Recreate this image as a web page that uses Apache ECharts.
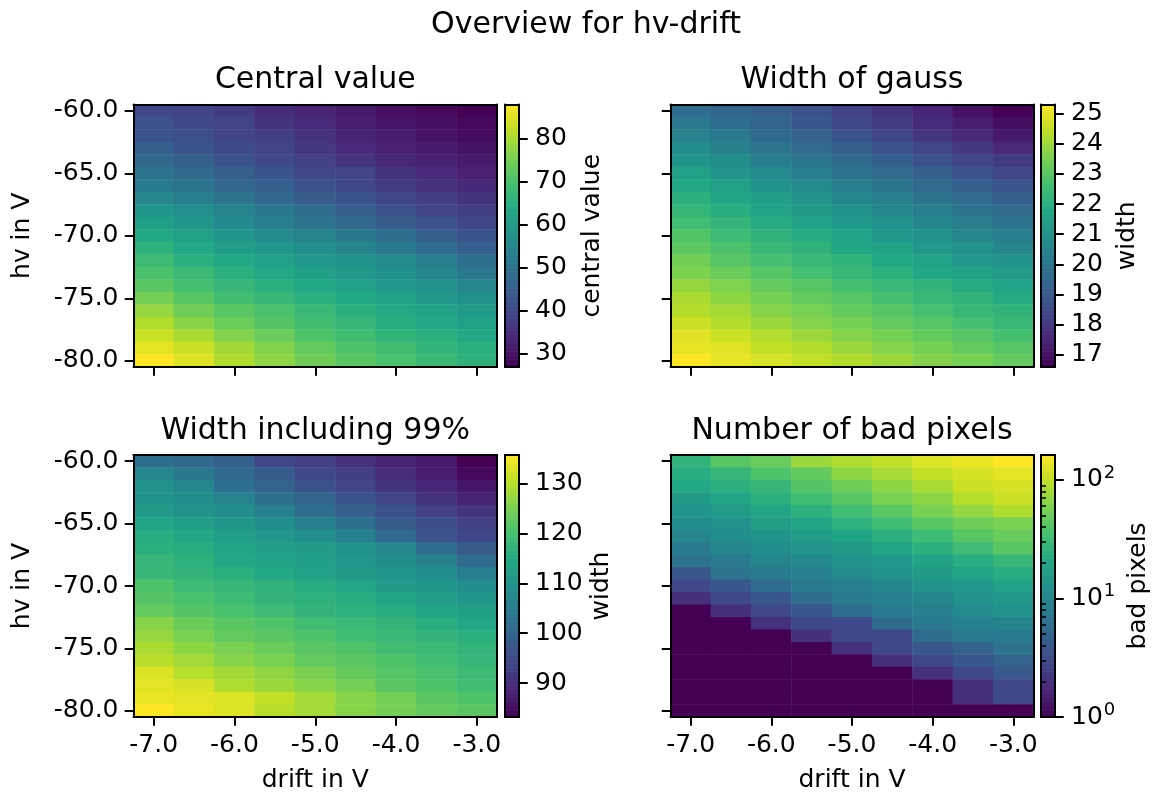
<!DOCTYPE html>
<html><head><meta charset="utf-8">
<script src="https://cdn.jsdelivr.net/npm/echarts@6/dist/echarts.min.js"></script>
<style>html,body{margin:0;padding:0;background:#fff}#c{width:1159px;height:796px}</style>
</head><body><div id="c"></div>
<script>
// ---------------- data ----------------
const driftLabels = ['-7.0','-6.5','-6.0','-5.5','-5.0','-4.5','-4.0','-3.5','-3.0'];
const hvLabels = ['-60.0','-61.0','-62.0','-63.0','-64.0','-65.0','-66.0','-67.0','-68.0','-69.0','-70.0',
                  '-71.0','-72.0','-73.0','-74.0','-75.0','-76.0','-77.0','-78.0','-79.0','-80.0'];

// rows: hv -60 (top) ... -80 (bottom); columns: drift -7.0 ... -3.0
const centralValue = [
  [39.7,39.1,37.3,34.8,33.0,31.2,29.3,28.1,26.9],
  [42.2,40.3,39.1,36.1,34.2,31.8,30.6,29.3,28.1],
  [42.8,41.5,39.1,37.9,35.4,33.0,31.8,29.9,28.7],
  [45.2,42.8,40.9,39.1,36.7,34.2,32.4,31.2,29.9],
  [47.6,45.2,42.8,40.3,38.5,36.1,33.6,32.4,31.2],
  [50.1,47.6,45.2,42.8,40.3,39.1,36.1,34.2,32.4],
  [51.9,50.1,47.0,45.2,42.2,39.7,37.3,35.4,33.6],
  [55.0,53.1,50.1,47.0,44.6,42.8,39.7,37.9,36.1],
  [58.6,56.8,53.7,51.3,48.3,45.2,42.2,39.1,37.9],
  [61.1,58.6,55.6,53.1,50.1,47.6,44.6,42.2,39.7],
  [63.5,61.1,58.6,55.6,53.7,51.3,48.3,45.2,42.8],
  [65.9,63.5,60.5,58.6,56.8,54.4,51.3,48.3,45.2],
  [68.4,65.3,63.5,61.1,59.2,57.4,55.6,52.5,48.9],
  [70.2,67.8,65.3,63.5,61.1,59.2,57.4,54.4,51.3],
  [72.0,69.6,67.2,65.3,63.5,61.7,59.2,57.4,55.0],
  [75.1,72.0,69.0,67.2,65.3,63.5,61.7,59.2,57.4],
  [78.1,74.5,72.0,70.2,67.8,65.3,63.5,61.7,59.8],
  [80.6,76.9,73.9,71.4,69.0,67.2,64.7,62.9,61.1],
  [83.0,80.0,76.3,73.9,70.8,69.0,66.6,65.3,63.5],
  [85.5,83.0,79.4,76.3,73.3,70.8,69.0,66.6,65.3],
  [87.9,84.9,80.6,77.5,74.5,72.0,70.2,67.8,65.9]
];
const widthGauss = [
  [19.7,19.5,19.2,18.8,18.3,17.9,17.5,17.0,16.6],
  [20.1,19.7,19.4,19.0,18.5,18.1,17.7,17.3,16.9],
  [20.4,20.1,19.6,19.3,18.9,18.4,18.0,17.6,17.2],
  [20.8,20.4,20.0,19.6,19.2,18.8,18.4,18.0,17.6],
  [21.1,20.8,20.3,20.0,19.6,19.2,18.8,18.4,18.1],
  [21.5,21.1,20.7,20.3,19.9,19.6,19.2,18.8,18.4],
  [21.8,21.5,21.0,20.7,20.3,19.9,19.6,19.2,18.9],
  [22.1,21.7,21.4,21.0,20.6,20.3,19.9,19.6,19.2],
  [22.3,22.0,21.6,21.3,21.0,20.6,20.3,19.9,19.6],
  [22.6,22.3,21.9,21.6,21.3,21.0,20.6,20.3,19.9],
  [22.9,22.5,22.2,21.9,21.6,21.2,21.0,20.6,20.3],
  [23.1,22.8,22.4,22.2,21.8,21.6,21.2,21.0,20.6],
  [23.4,23.0,22.7,22.4,22.2,21.8,21.6,21.2,21.0],
  [23.6,23.3,23.0,22.7,22.4,22.1,21.8,21.6,21.3],
  [23.9,23.6,23.2,23.0,22.7,22.4,22.2,21.9,21.6],
  [24.2,23.8,23.5,23.2,23.0,22.7,22.4,22.2,21.9],
  [24.3,24.1,23.7,23.5,23.2,23.0,22.7,22.4,22.2],
  [24.6,24.3,24.0,23.7,23.5,23.2,23.0,22.7,22.4],
  [24.9,24.6,24.3,24.0,23.7,23.5,23.2,23.0,22.7],
  [25.0,24.9,24.5,24.3,24.0,23.7,23.5,23.2,23.0],
  [25.3,25.0,24.8,24.5,24.3,24.0,23.7,23.5,23.2]
];
const width99 = [
  [102.1,101.1,98.9,94.2,93.2,90.6,88.5,86.9,83.2],
  [107.4,104.2,101.1,98.4,94.2,92.7,90.0,87.4,84.3],
  [109.5,107.4,102.1,99.5,96.3,93.7,91.1,89.0,86.4],
  [110.0,108.9,106.3,102.6,100.0,96.9,93.7,91.1,88.5],
  [111.6,110.0,108.9,105.8,102.1,98.9,96.3,93.2,91.1],
  [113.7,112.1,110.5,108.9,105.8,102.1,98.4,95.8,93.2],
  [115.8,114.2,112.1,110.5,108.9,105.8,101.1,96.9,94.2],
  [116.3,115.8,113.7,112.1,111.6,110.0,107.4,101.6,98.4],
  [117.9,116.8,114.7,113.1,112.1,110.5,108.9,106.3,101.6],
  [117.9,117.3,116.3,114.7,113.1,111.6,110.5,108.9,105.3],
  [121.0,118.9,117.9,116.8,115.8,114.2,111.6,110.5,108.9],
  [121.5,120.5,118.9,117.3,116.8,115.8,113.7,112.1,110.5],
  [123.1,121.5,120.5,118.9,117.3,116.8,115.8,113.7,112.1],
  [126.3,123.6,122.1,121.0,119.4,118.4,117.3,115.8,114.2],
  [127.3,125.2,123.1,122.1,121.0,119.4,118.4,117.3,116.3],
  [128.9,126.8,125.2,123.6,122.1,121.0,119.4,118.4,117.3],
  [129.9,128.4,126.3,125.2,123.1,122.1,121.0,119.4,117.9],
  [133.1,129.9,128.4,126.8,125.2,123.1,121.5,120.5,118.9],
  [133.6,132.6,129.4,127.8,126.3,124.7,122.1,121.0,119.4],
  [134.1,133.6,133.1,131.0,128.4,126.3,124.7,122.1,121.0],
  [135.7,134.1,133.1,129.9,128.4,126.3,124.7,123.1,122.1]
];
const badPixels = [
  [27,43,50,76,88,103,126,140,162],
  [23,29,39,48,68,83,103,119,133],
  [21,25,29,41,52,68,83,108,120],
  [16,20,25,33,43,58,68,92,108],
  [14,16,20,25,33,43,58,72,88],
  [12,13,17,20,26,33,43,52,58],
  [10,12,14,16,20,25,32,43,50],
  [8,10,12,14,16,20,25,32,43],
  [7,8,10,11,13,15,19,23,29],
  [4,7,8,9,11,13,16,19,23],
  [3,4,6,8,9,10,13,15,18],
  [2,3,4,6,8,9,10,13,15],
  [1,2,3,4,6,8,9,11,13],
  [1,1,2,3,3,6,8,9,10],
  [1,1,1,2,3,3,6,8,8],
  [1,1,1,1,2,3,4,5,7],
  [1,1,1,1,1,2,3,4,5],
  [1,1,1,1,1,1,2,3,4],
  [1,1,1,1,1,1,1,2,3],
  [1,1,1,1,1,1,1,2,3],
  [1,1,1,1,1,1,1,1,1]
];

const centralTicks = [30,40,50,60,70,80];
const gaussTicks = [17,18,19,20,21,22,23,24,25];
const width99Ticks = [90,100,110,120,130];
const badTicks = [1,10,100];
const badMinorTicks = [2,3,4,5,6,7,8,9,20,30,40,50,60,70,80,90];

// ---------------- style ----------------
const FONT = '"DejaVu Sans", "Liberation Sans", sans-serif';
const VIRIDIS = ['#440154','#482475','#414487','#355f8d','#2a788e','#21918c','#22a884','#44bf70','#7ad151','#bddf26','#fde725'];

function hex2rgb(h){return [parseInt(h.slice(1,3),16),parseInt(h.slice(3,5),16),parseInt(h.slice(5,7),16)];}
const VIR_RGB = VIRIDIS.map(hex2rgb);
function viridis(t){
  t = Math.max(0, Math.min(1, t));
  const p = t * (VIR_RGB.length - 1);
  const i = Math.min(Math.floor(p), VIR_RGB.length - 2);
  const f = p - i;
  const a = VIR_RGB[i], b = VIR_RGB[i+1];
  return 'rgb(' + [0,1,2].map(k => Math.round(a[k] + (b[k]-a[k])*f)).join(',') + ')';
}

const panels = [
  {data: centralValue, log:false, ticks: centralTicks, minor: null, title:'Central value', cbLabel:'central value',
   grid:{left:133.5, top:104.5, width:363.5, height:262.5}, cb:{left:505, top:104.5, width:14, height:262.5},
   showX:false, showY:true, cbLabelX:592},
  {data: widthGauss, log:false, ticks: gaussTicks, minor: null, title:'Width of gauss', cbLabel:'width',
   grid:{left:670.5, top:104.5, width:363, height:262.5}, cb:{left:1041, top:104.5, width:14, height:262.5},
   showX:false, showY:false, cbLabelX:1127},
  {data: width99, log:false, ticks: width99Ticks, minor: null, title:'Width including 99%', cbLabel:'width',
   grid:{left:133.5, top:455, width:363.5, height:262}, cb:{left:505, top:455, width:14, height:262},
   showX:true, showY:true, cbLabelX:601},
  {data: badPixels, log:true, ticks: badTicks, minor: badMinorTicks, title:'Number of bad pixels', cbLabel:'bad pixels',
   grid:{left:670.5, top:455, width:363, height:262}, cb:{left:1041, top:455, width:14, height:262},
   showX:true, showY:false, cbLabelX:1138}
];

const black = '#000';
const grids = [], xAxes = [], yAxes = [], series = [], visualMaps = [], graphics = [];

panels.forEach((p, i) => {
  const flat = p.data.flat();
  const vmin = Math.min(...flat), vmax = Math.max(...flat);
  const gi = grids.length;
  grids.push(Object.assign({containLabel:false}, p.grid));
  grids.push(Object.assign({containLabel:false}, p.cb));
  const cgi = gi + 1;

  // heatmap axes
  const xb = xAxes.length;
  xAxes.push({type:'category', gridIndex:gi, position:'bottom', data:driftLabels, z:10,
    axisLine:{show:true, onZero:false, lineStyle:{color:black, width:2}},
    axisTick:{show:true, alignWithLabel:true, interval:1, length:8.75, lineStyle:{color:black, width:2}},
    axisLabel:{show:p.showX, interval:1, margin:16, fontSize:25, color:black, fontFamily:FONT},
    splitLine:{show:false}});
  xAxes.push({type:'category', gridIndex:gi, position:'top', data:driftLabels, z:10,
    axisLine:{show:true, onZero:false, lineStyle:{color:black, width:2}},
    axisTick:{show:false}, axisLabel:{show:false}, splitLine:{show:false}});
  const yl = yAxes.length;
  yAxes.push({type:'category', gridIndex:gi, position:'left', data:hvLabels, inverse:true, z:10,
    axisLine:{show:true, onZero:false, lineStyle:{color:black, width:2}},
    axisTick:{show:true, alignWithLabel:true, interval:4, length:8.75, lineStyle:{color:black, width:2}},
    axisLabel:{show:p.showY, interval:4, margin:15, fontSize:25, color:black, fontFamily:FONT},
    splitLine:{show:false}});
  yAxes.push({type:'category', gridIndex:gi, position:'right', data:hvLabels, inverse:true, z:10,
    axisLine:{show:true, onZero:false, lineStyle:{color:black, width:2}},
    axisTick:{show:false}, axisLabel:{show:false}, splitLine:{show:false}});

  // colorbar axes
  const cxb = xAxes.length;
  xAxes.push({type:'value', gridIndex:cgi, position:'bottom', min:0, max:1, z:10,
    axisLine:{show:true, onZero:false, lineStyle:{color:black, width:2}},
    axisTick:{show:false}, axisLabel:{show:false}, splitLine:{show:false}});
  xAxes.push({type:'value', gridIndex:cgi, position:'top', min:0, max:1, z:10,
    axisLine:{show:true, onZero:false, lineStyle:{color:black, width:2}},
    axisTick:{show:false}, axisLabel:{show:false}, splitLine:{show:false}});
  const cyr = yAxes.length;
  yAxes.push({type:p.log?'log':'value', logBase:10, gridIndex:cgi, position:'right', min:vmin, max:vmax, z:10,
    axisLine:{show:true, onZero:false, lineStyle:{color:black, width:2}},
    axisTick:{show:true, customValues:p.ticks, length:8.75, lineStyle:{color:black, width:2}},
    axisLabel:{show:true, customValues:p.ticks, margin:16, fontSize:25, color:black, fontFamily:FONT,
      formatter: p.log ? (v => '{b|10}{s|' + Math.round(Math.log10(v)) + '}') : (v => String(v)),
      rich: p.log ? {b:{fontSize:25, fontFamily:FONT, color:black},
                     s:{fontSize:18, fontFamily:FONT, color:black, padding:[0,0,14,1]}} : undefined},
    splitLine:{show:false}});
  yAxes.push({type:p.log?'log':'value', logBase:10, gridIndex:cgi, position:'left', min:vmin, max:vmax, z:10,
    axisLine:{show:true, onZero:false, lineStyle:{color:black, width:2}},
    axisTick:{show:false}, axisLabel:{show:false}, splitLine:{show:false}});
  if (p.minor) {
    yAxes.push({type:'log', logBase:10, gridIndex:cgi, position:'right', min:vmin, max:vmax, z:10,
      axisLine:{show:false},
      axisTick:{show:true, customValues:p.minor, length:5, lineStyle:{color:black, width:1.5}},
      axisLabel:{show:false}, splitLine:{show:false}});
  }

  // heatmap series
  const hmData = [];
  p.data.forEach((row, r) => row.forEach((v, c) => hmData.push([c, r, p.log ? Math.log10(v) : v])));
  const si = series.length;
  series.push({type:'heatmap', xAxisIndex:xb, yAxisIndex:yl, data:hmData, progressive:0,
    itemStyle:{borderWidth:0}, emphasis:{disabled:true}, silent:true});
  visualMaps.push({type:'continuous', show:false, seriesIndex:si, dimension:2,
    min: p.log ? Math.log10(vmin) : vmin, max: p.log ? Math.log10(vmax) : vmax,
    inRange:{color:VIRIDIS}});

  // colorbar series (steps along the colorbar axis)
  const N = 200;
  const steps = [];
  for (let k = 0; k < N; k++) steps.push([k]);
  const lo = p.log ? Math.log10(vmin) : vmin, hi = p.log ? Math.log10(vmax) : vmax;
  series.push({type:'custom', xAxisIndex:cxb, yAxisIndex:cyr, data:steps, silent:true, z:2,
    renderItem:(params, api) => {
      const k = api.value(0);
      let a = lo + (hi-lo)*k/N, b = lo + (hi-lo)*(k+1)/N;
      if (p.log) { a = Math.pow(10, a); b = Math.pow(10, b); }
      const p0 = api.coord([0, a]), p1 = api.coord([1, b]);
      return {type:'rect', shape:{x:p0[0], y:p1[1], width:p1[0]-p0[0], height:p0[1]-p1[1]+0.6},
        style:{fill: viridis((k+0.5)/N)}};
    }});

  // texts
  const cx = p.grid.left + p.grid.width/2, cy = p.grid.top + p.grid.height/2;
  graphics.push({type:'text', x:cx, y:p.grid.top - 24, style:{text:p.title, font:'30px ' + FONT, fill:black,
    textAlign:'center', textVerticalAlign:'middle', align:'center', verticalAlign:'middle'}});
  graphics.push({type:'text', x:p.cbLabelX, y:cy, rotation:Math.PI/2, style:{text:p.cbLabel, font:'25px ' + FONT, fill:black,
    textAlign:'center', textVerticalAlign:'middle', align:'center', verticalAlign:'middle'}});
  if (p.showY) graphics.push({type:'text', x:22, y:cy, rotation:Math.PI/2, style:{text:'hv in V', font:'25px ' + FONT, fill:black,
    textAlign:'center', textVerticalAlign:'middle', align:'center', verticalAlign:'middle'}});
  if (p.showX) graphics.push({type:'text', x:cx, y:780, style:{text:'drift in V', font:'25px ' + FONT, fill:black,
    textAlign:'center', textVerticalAlign:'middle', align:'center', verticalAlign:'middle'}});
});
graphics.push({type:'text', x:586, y:25, style:{text:'Overview for hv-drift', font:'30px ' + FONT, fill:black,
  textAlign:'center', textVerticalAlign:'middle', align:'center', verticalAlign:'middle'}});

const chart = echarts.init(document.getElementById('c'), null, {renderer:'canvas'});
chart.setOption({
  animation:false,
  backgroundColor:'#fff',
  grid:grids, xAxis:xAxes, yAxis:yAxes, series:series, visualMap:visualMaps, graphic:graphics
});
</script></body></html>
